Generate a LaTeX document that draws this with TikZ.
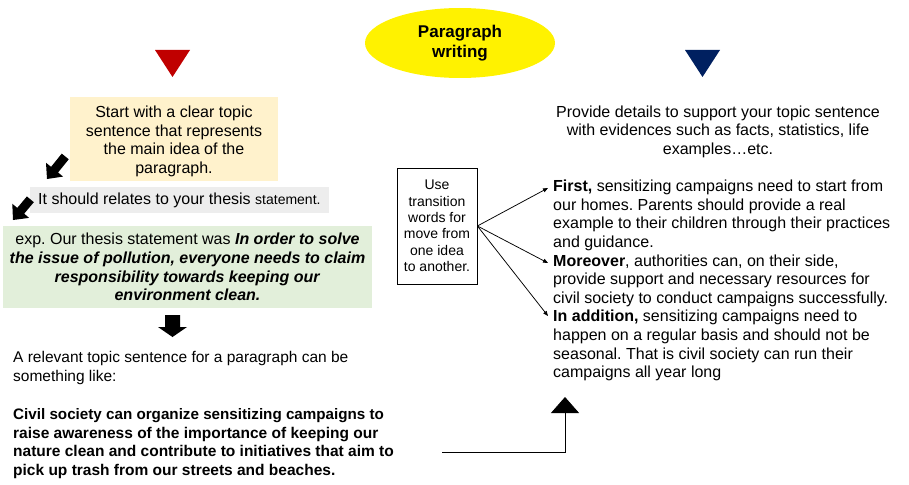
\documentclass[tikz,border=0pt]{standalone}
\usepackage{fontspec}
\setmainfont{Liberation Sans}
\usetikzlibrary{arrows.meta,shapes.geometric}
\definecolor{beigefill}{HTML}{FFF2CC}
\definecolor{grayfill}{HTML}{EDEDED}
\definecolor{greenfill}{HTML}{E2EFDA}
\definecolor{redtri}{HTML}{C00000}
\definecolor{navytri}{HTML}{002060}
\newcommand{\blkarrow}[7]{% tip x, tip y, angle, length, shaft width, head width, head length
  \fill[black, shift={(#1,#2)}, rotate=#3] (0,0) -- (-#7,#6/2) -- (-#7,#5/2) -- (-#4,#5/2) -- (-#4,-#5/2) -- (-#7,-#5/2) -- (-#7,-#6/2) -- cycle;}
\frenchspacing
\begin{document}
\begin{tikzpicture}[x=1pt,y=-1pt,
  every node/.style={font=\fontsize{16}{18.6}\selectfont, inner sep=0pt},
  box/.style={rectangle, align=center},
  plain/.style={align=left},
  conn/.style={line width=0.75pt, -{Triangle[length=5pt,width=4pt]}}]
\useasboundingbox (0,0) rectangle (909,484);
% title
\node[ellipse, fill=yellow, minimum width=190, minimum height=70, align=center,
      font=\fontsize{17}{20.5}\selectfont\bfseries] (title) at (460,43) {Paragraph\\writing};
% triangles
\coordinate (rA) at (155,50); \coordinate (rB) at (190,50); \coordinate (rC) at (172.5,77);
\fill[redtri] (rA) -- (rB) -- (rC) -- cycle;
\coordinate (nA) at (685,50); \coordinate (nB) at (720,50); \coordinate (nC) at (702.5,77);
\fill[navytri] (nA) -- (nB) -- (nC) -- cycle;
% left column
\node[rectangle, fill=beigefill, minimum width=208, minimum height=84] (topic) at (174,139) {};
\node[box] (topictext) at (174,141.5)
  {Start with a clear topic\\sentence that represents\\the main idea of the\\paragraph.};
\node[box, fill=grayfill, minimum width=292, minimum height=26, anchor=west, inner xsep=8pt, align=left] (thesis) at (30,200)
  {It should relates to your thesis {\fontsize{14}{16}\selectfont statement.}};
\node[box, fill=greenfill, minimum width=369, minimum height=82] (example) at (187.5,267)
  {exp. Our thesis statement was \textbf{\textit{In order to solve}}\\
   \textbf{\textit{the issue of pollution, everyone needs to claim}}\\
   \textbf{\textit{responsibility towards keeping our}}\\
   \textbf{\textit{environment clean.}}};
\blkarrow{47}{179}{-129}{29}{9}{22}{12}
\blkarrow{13}{220}{-130}{27}{9}{22}{12}
\blkarrow{172.5}{337}{-90}{22}{15}{29}{10}
\node[plain, anchor=north west, font=\fontsize{15.5}{18.9}\selectfont] (relevant) at (13,351)
  {A relevant topic sentence for a paragraph can be\\something like:\\[18.9pt]
   \fontsize{15.2}{18.9}\selectfont
   \textbf{Civil society can organize sensitizing campaigns to}\\
   \textbf{raise awareness of the importance of keeping our}\\
   \textbf{nature clean and contribute to initiatives that aim to}\\
   \textbf{pick up trash from our streets and beaches.}};
% connector to the right column
\coordinate (lineStart) at (442,452);
\coordinate (lineEnd) at (565,397);
\draw[line width=0.8pt, -{Triangle[width=28pt,length=16pt]}] (lineStart) -| (lineEnd);
% transition box
\node[box, draw, line width=0.8pt, minimum width=80, minimum height=116,
      font=\fontsize{14}{16.4}\selectfont] (trans) at (437,226)
  {Use\\transition\\words for\\move from\\one idea\\to another.};
% right column
\node[box] (provide) at (718,131.5)
  {Provide details to support your topic sentence\\with evidences such as facts, statistics, life\\examples…etc.};
\node[plain, anchor=north west] (details) at (553,180)
  {\textbf{First,} sensitizing campaigns need to start from\\
   our homes. Parents should provide a real\\
   example to their children through their practices\\
   and guidance.\\
   \textbf{Moreover}, authorities can, on their side,\\
   provide support and necessary resources for\\
   civil society to conduct campaigns successfully.\\
   \textbf{In addition,} sensitizing campaigns need to\\
   happen on a regular basis and should not be\\
   seasonal. That is civil society can run their\\
   campaigns all year long};
\coordinate (t1) at (548,188);
\coordinate (t2) at (548,263);
\coordinate (t3) at (548,316);
\draw[conn] (trans.east) -- (t1);
\draw[conn] (trans.east) -- (t2);
\draw[conn] (trans.east) -- (t3);
\end{tikzpicture}
\end{document}
